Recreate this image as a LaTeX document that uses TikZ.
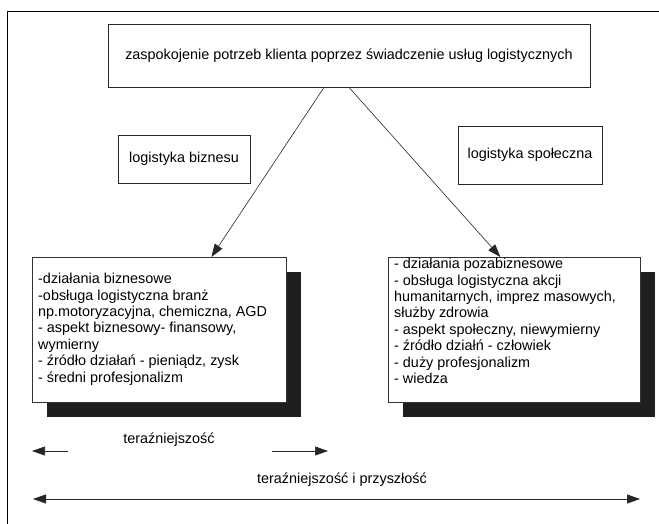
\documentclass[tikz,border=0pt]{standalone}
\usepackage{fontspec}
\setmainfont{Liberation Sans}
\usetikzlibrary{arrows.meta,shadows}
\def\panelwidth{254pt}
\def\panelheight{145pt}
\tikzstyle{arrow} = [line width=0.6pt,draw=black!85,-{Triangle[length=13pt,width=9pt]}]
\tikzstyle{twoway} = [line width=0.8pt,draw=black!85,{Triangle[length=13pt,width=9pt]}-{Triangle[length=13pt,width=9pt]}]

\begin{document}
\begin{tikzpicture}[x=1pt,y=-1pt,every node/.style={font=\fontsize{14.4}{16.4}\selectfont}]
    \tikzstyle{goal}=[draw=black!85,line width=0.8pt,minimum width=482pt,minimum height=63pt,inner sep=0pt]
    \tikzstyle{tag}=[draw=black!85,line width=0.8pt,inner sep=0pt]
    \tikzstyle{panel}=[draw=black!80,line width=0.8pt,fill=white,anchor=north west,inner sep=0pt,
        minimum height=\panelheight,drop shadow={shadow xshift=15pt,shadow yshift=-15pt,fill=black!88,opacity=1}]
    \tikzstyle{items}=[anchor=north west,align=left,inner sep=0pt]
    \clip (0,0) rectangle (659,524);

    % Draw the frame
    \draw[line width=0.9pt] (7,540) |- (670,11);

    % Draw the top box and the two labels
    \node[goal] (goal) at (349,55.5) {zaspokojenie potrzeb klienta poprzez świadczenie usług logistycznych};
    \node[tag,minimum width=132pt,minimum height=48pt] (biztag) at (184,159) {logistyka biznesu};
    \node[tag,minimum width=144pt,minimum height=58pt] (soctag) at (530,155) {logistyka społeczna};

    % Draw the two panels
    \node[panel,minimum width=\panelwidth] (biz) at (32,257) {};
    \node[panel,minimum width=252pt] (soc) at (388,257) {};
    \node[items] (biztext) at ([shift={(6pt,-16pt)}]biz.north west)
        {-działania biznesowe\\-obsługa logistyczna branż\\np.motoryzacyjna, chemiczna, AGD\\- aspekt biznesowy- finansowy,\\wymierny\\- źródło działań - pieniądz, zysk\\- średni profesjonalizm};
    \node[items] (soctext) at ([shift={(6pt,-1pt)}]soc.north west)
        {- działania pozabiznesowe\\- obsługa logistyczna akcji\\humanitarnych, imprez masowych,\\służby zdrowia\\- aspekt społeczny, niewymierny\\- źródło działń - człowiek\\- duży profesjonalizm\\- wiedza};

    % Connect the top box to the panels
    \draw[arrow] ([xshift=-25pt]goal.south) -- ([xshift=52pt]biz.north);
    \draw[arrow] (goal.south) -- ([xshift=-14pt]soc.north);

    % Draw the time axis
    \node (now) at (169,440) {teraźniejszość};
    \coordinate (nowL) at (68,451);
    \coordinate (nowR) at (272,451);
    \coordinate (nowRtip) at (328,451);
    \draw[arrow] (nowL) -- (nowL -| biz.west);
    \draw[arrow] (nowR) -- (nowRtip);
    \node (future) at (342,480) {teraźniejszość i przyszłość};
    \coordinate (futL) at (33,499);
    \coordinate (futR) at (640,499);
    \draw[twoway] (futL) -- (futR);
\end{tikzpicture}
\end{document}
